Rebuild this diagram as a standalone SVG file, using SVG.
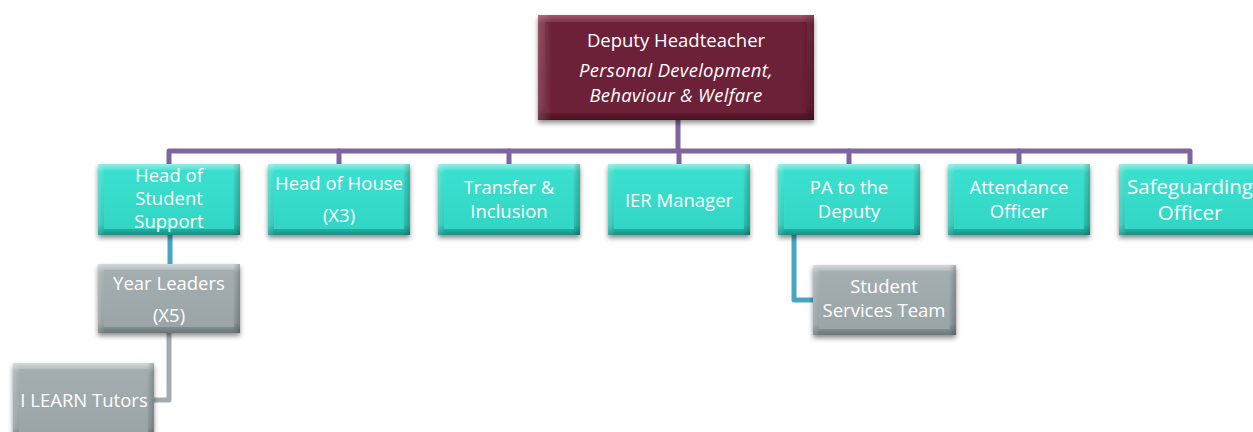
<svg xmlns="http://www.w3.org/2000/svg" width="1253" height="432" viewBox="0 0 1253 432">
  <defs>
    <filter id="shadow" x="-20%" y="-20%" width="140%" height="150%">
      <feDropShadow dx="0" dy="3" stdDeviation="2.5" flood-color="#000" flood-opacity="0.45"/>
    </filter>
    <!-- bevelled edge gradients: light top, dark bottom -->
    <linearGradient id="tealEdge" x1="0" y1="0" x2="0" y2="1">
      <stop offset="0" stop-color="#8eeee3"/>
      <stop offset="0.12" stop-color="#3fdccb"/>
      <stop offset="0.85" stop-color="#2cc6b6"/>
      <stop offset="1" stop-color="#1a8f85"/>
    </linearGradient>
    <linearGradient id="tealFace" x1="0" y1="0" x2="0" y2="1">
      <stop offset="0" stop-color="#3ae0cf"/>
      <stop offset="1" stop-color="#33d6c5"/>
    </linearGradient>
    <linearGradient id="grayEdge" x1="0" y1="0" x2="0" y2="1">
      <stop offset="0" stop-color="#d3d9db"/>
      <stop offset="0.12" stop-color="#a5afb2"/>
      <stop offset="0.85" stop-color="#939ea1"/>
      <stop offset="1" stop-color="#6c7679"/>
    </linearGradient>
    <linearGradient id="grayFace" x1="0" y1="0" x2="0" y2="1">
      <stop offset="0" stop-color="#a4aeb1"/>
      <stop offset="1" stop-color="#9aa5a8"/>
    </linearGradient>
    <linearGradient id="maroonEdge" x1="0" y1="0" x2="0" y2="1">
      <stop offset="0" stop-color="#a0546b"/>
      <stop offset="0.08" stop-color="#7a2b43"/>
      <stop offset="0.9" stop-color="#6a1f36"/>
      <stop offset="1" stop-color="#4a1022"/>
    </linearGradient>
    <linearGradient id="sideShade" x1="0" y1="0" x2="1" y2="0">
      <stop offset="0" stop-color="#fff" stop-opacity="0.18"/>
      <stop offset="0.05" stop-color="#fff" stop-opacity="0"/>
      <stop offset="0.95" stop-color="#000" stop-opacity="0"/>
      <stop offset="1" stop-color="#000" stop-opacity="0.2"/>
    </linearGradient>
  </defs>
  <style>
    text { font-family: "Open Sans", "Liberation Sans", sans-serif; fill: #ffffff; text-anchor: middle; }
    .t { font-size: 18.5px; }
    .big { font-size: 20.5px; }
    .it { font-style: italic; font-size: 18.5px; letter-spacing: 0.3px; }
    .tealOuter { fill: url(#tealEdge); }
    .tealInner { fill: url(#tealFace); }
    .grayOuter { fill: url(#grayEdge); }
    .grayInner { fill: url(#grayFace); }
    .shade { fill: url(#sideShade); }
    .box { filter: url(#shadow); }
    .purple { stroke: #8064a2; stroke-width: 5; fill: none; stroke-linejoin: round; stroke-linecap: round; }
    .blue { stroke: #4aa5c2; stroke-width: 5; fill: none; stroke-linejoin: round; }
    .grey { stroke: #a2abae; stroke-width: 5; fill: none; stroke-linejoin: round; }
  </style>

  <!-- connectors -->
  <g id="connectors">
    <path class="purple" d="M678 120 V151"/>
    <path class="purple" d="M169 164 V151 H1190 V164"/>
    <path class="purple" d="M339 151 V164 M509 151 V164 M679 151 V164 M849 151 V164 M1019 151 V164"/>
    <path class="blue" d="M170 235 V264"/>
    <path class="blue" d="M794 235 V300 H813"/>
    <path class="grey" d="M169 333 V400 H154"/>
  </g>

  <!-- top -->
  <g id="deputy-headteacher">
    <g class="box">
      <rect x="538" y="15" width="276" height="105" fill="url(#maroonEdge)"/>
    </g>
    <rect x="545" y="22" width="262" height="91" fill="#6d2139"/>
    <rect x="538" y="15" width="276" height="105" class="shade"/>
    <text class="t" x="676" y="47">Deputy Headteacher</text>
    <text class="it" x="676" y="77">Personal Development,</text>
    <text class="it" x="676" y="102">Behaviour &amp; Welfare</text>
  </g>

  <!-- second row -->
  <g id="head-of-student-support">
    <rect class="box tealOuter" x="98" y="164" width="142" height="71"/>
    <rect class="tealInner" x="104" y="170" width="130" height="59"/>
    <rect class="shade" x="98" y="164" width="142" height="71"/>
    <text class="t" x="169" y="182">Head of</text>
    <text class="t" x="169" y="205">Student</text>
    <text class="t" x="169" y="228">Support</text>
  </g>

  <g id="head-of-house">
    <rect class="box tealOuter" x="268" y="164" width="142" height="71"/>
    <rect class="tealInner" x="274" y="170" width="130" height="59"/>
    <rect class="shade" x="268" y="164" width="142" height="71"/>
    <text class="t" x="339" y="190">Head of House</text>
    <text class="t" x="339" y="222">(X3)</text>
  </g>

  <g id="transfer-inclusion">
    <rect class="box tealOuter" x="438" y="164" width="142" height="71"/>
    <rect class="tealInner" x="444" y="170" width="130" height="59"/>
    <rect class="shade" x="438" y="164" width="142" height="71"/>
    <text class="t" x="509" y="194">Transfer &amp;</text>
    <text class="t" x="509" y="218">Inclusion</text>
  </g>

  <g id="ier-manager">
    <rect class="box tealOuter" x="608" y="164" width="142" height="71"/>
    <rect class="tealInner" x="614" y="170" width="130" height="59"/>
    <rect class="shade" x="608" y="164" width="142" height="71"/>
    <text class="t" x="679" y="207">IER Manager</text>
  </g>

  <g id="pa-to-deputy">
    <rect class="box tealOuter" x="778" y="164" width="142" height="71"/>
    <rect class="tealInner" x="784" y="170" width="130" height="59"/>
    <rect class="shade" x="778" y="164" width="142" height="71"/>
    <text class="t" x="849" y="194">PA to the</text>
    <text class="t" x="849" y="218">Deputy</text>
  </g>

  <g id="attendance-officer">
    <rect class="box tealOuter" x="948" y="164" width="142" height="71"/>
    <rect class="tealInner" x="954" y="170" width="130" height="59"/>
    <rect class="shade" x="948" y="164" width="142" height="71"/>
    <text class="t" x="1019" y="194">Attendance</text>
    <text class="t" x="1019" y="218">Officer</text>
  </g>

  <g id="safeguarding-officer">
    <rect class="box tealOuter" x="1119" y="164" width="142" height="71"/>
    <rect class="tealInner" x="1125" y="170" width="130" height="59"/>
    <rect class="shade" x="1119" y="164" width="142" height="71"/>
    <text class="big" x="1190" y="194">Safeguarding</text>
    <text class="big" x="1190" y="220">Officer</text>
  </g>

  <!-- lower levels -->
  <g id="year-leaders">
    <rect class="box grayOuter" x="98" y="264" width="142" height="69"/>
    <rect class="grayInner" x="104" y="270" width="130" height="57"/>
    <rect class="shade" x="98" y="264" width="142" height="69"/>
    <text class="t" x="169" y="290">Year Leaders</text>
    <text class="t" x="169" y="322">(X5)</text>
  </g>

  <g id="i-learn-tutors">
    <rect class="box grayOuter" x="13" y="363" width="141" height="75"/>
    <rect class="grayInner" x="19" y="369" width="129" height="63"/>
    <rect class="shade" x="13" y="363" width="141" height="75"/>
    <text class="t" x="84" y="407">I LEARN Tutors</text>
  </g>

  <g id="student-services-team">
    <rect class="box grayOuter" x="813" y="265" width="143" height="70"/>
    <rect class="grayInner" x="819" y="271" width="131" height="58"/>
    <rect class="shade" x="813" y="265" width="143" height="70"/>
    <text class="t" x="884" y="293">Student</text>
    <text class="t" x="884" y="317">Services Team</text>
  </g>
</svg>
